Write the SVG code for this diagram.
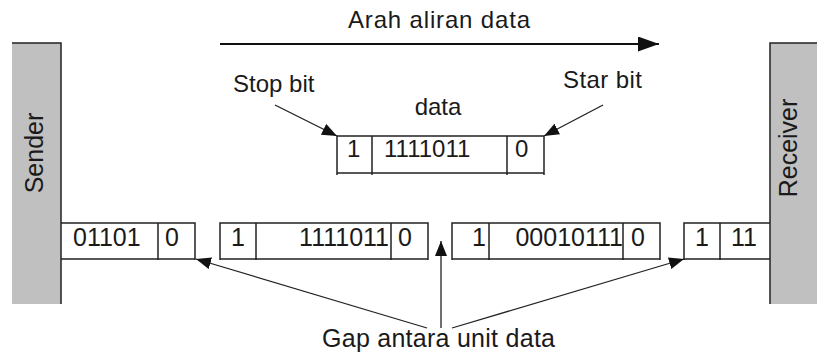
<svg xmlns="http://www.w3.org/2000/svg" width="817" height="360" viewBox="0 0 817 360">
  <style>
    .t { font-family: "Liberation Sans", Arial, sans-serif; fill: #1a1a1a; }
    .lbl { font-size: 24px; }
    .bit { font-size: 25px; }
    .box { fill: none; stroke: #222; stroke-width: 1.5; }
    .bar { fill: #c0c0c0; }
    .edge { stroke: #222; stroke-width: 1.5; fill: none; }
    .conn { stroke: #222; stroke-width: 1.3; fill: none; }
    .flow { stroke: #111; stroke-width: 2.2; fill: none; }
  </style>
  <defs>
    <marker id="head" markerUnits="userSpaceOnUse" markerWidth="16" markerHeight="12" refX="15" refY="6" orient="auto">
      <path d="M0,0 L15,6 L0,12 Z" fill="#111"/>
    </marker>
    <marker id="bighead" markerUnits="userSpaceOnUse" markerWidth="22" markerHeight="16" refX="21" refY="7.5" orient="auto">
      <path d="M0,0 L21,7.5 L0,15 Z" fill="#111"/>
    </marker>
  </defs>

  <rect width="817" height="360" fill="#fff"/>

  <!-- sender station -->
  <g id="sender">
    <rect class="bar" x="12" y="43" width="49" height="261"/>
    <path class="edge" d="M12,43 H61 V304"/>
    <text class="t bit" transform="translate(43,153) rotate(-90)" text-anchor="middle">Sender</text>
  </g>

  <!-- receiver station -->
  <g id="receiver">
    <rect class="bar" x="770" y="43" width="47" height="261"/>
    <path class="edge" d="M817,43 H770 V304"/>
    <text class="t bit" transform="translate(797,148) rotate(-90)" text-anchor="middle">Receiver</text>
  </g>

  <!-- flow direction -->
  <g id="flow">
    <text class="t lbl" x="439" y="28" text-anchor="middle" textLength="182" lengthAdjust="spacing">Arah aliran data</text>
  </g>

  <!-- single data unit -->
  <g id="data-unit">
    <text class="t lbl" x="438" y="115" text-anchor="middle">data</text>
    <path class="box" d="M337,175 V136 H544 V175 M337,173 H544 M372,136 V175 M507,136 V175"/>
    <text class="t lbl" x="347" y="157">1</text>
    <text class="t lbl" x="384" y="157">1111011</text>
    <text class="t lbl" x="515" y="157">0</text>
  </g>

  <g id="stop-label">
    <text class="t lbl" x="233" y="92">Stop bit</text>
  </g>
  <g id="start-label">
    <text class="t lbl" x="563" y="88" textLength="79" lengthAdjust="spacing">Star bit</text>
  </g>

  <!-- stream on the line -->
  <g id="unit-1">
    <path class="box" d="M61,223 H195 V260 M61,259 H195 M158,223 V260"/>
    <text class="t bit" x="73" y="246">01101</text>
    <text class="t bit" x="165" y="246">0</text>
  </g>
  <g id="unit-2">
    <path class="box" d="M220,260 V223 H428 V260 M220,259 H428 M256,223 V260 M391,223 V260"/>
    <text class="t bit" x="231" y="246">1</text>
    <text class="t bit" x="389" y="246" text-anchor="end">1111011</text>
    <text class="t bit" x="398" y="246">0</text>
  </g>
  <g id="unit-3">
    <path class="box" d="M452,260 V223 H660 V260 M452,259 H660 M489,223 V260 M623,223 V260"/>
    <text class="t bit" x="486" y="246" text-anchor="end">1</text>
    <text class="t bit" x="623" y="246" text-anchor="end">00010111</text>
    <text class="t bit" x="631" y="246">0</text>
  </g>
  <g id="unit-4">
    <path class="box" d="M684,260 V223 H770 M684,259 H770 M720,223 V260"/>
    <text class="t bit" x="695" y="246">1</text>
    <text class="t bit" x="731" y="246">11</text>
  </g>

  <g id="gap-label">
    <text class="t bit" x="322" y="347" textLength="233" lengthAdjust="spacing">Gap antara unit data</text>
  </g>

  <!-- connectors -->
  <g id="connectors">
    <line class="flow" x1="220" y1="44" x2="659" y2="44" marker-end="url(#bighead)"/>
    <line class="conn" x1="275" y1="105" x2="337" y2="136" marker-end="url(#head)"/>
    <line class="conn" x1="603" y1="105" x2="544" y2="136" marker-end="url(#head)"/>
    <line class="conn" x1="427" y1="328" x2="196" y2="259" marker-end="url(#head)"/>
    <line class="conn" x1="441" y1="328" x2="441" y2="241" marker-end="url(#head)"/>
    <line class="conn" x1="452" y1="328" x2="684" y2="259" marker-end="url(#head)"/>
  </g>
</svg>
